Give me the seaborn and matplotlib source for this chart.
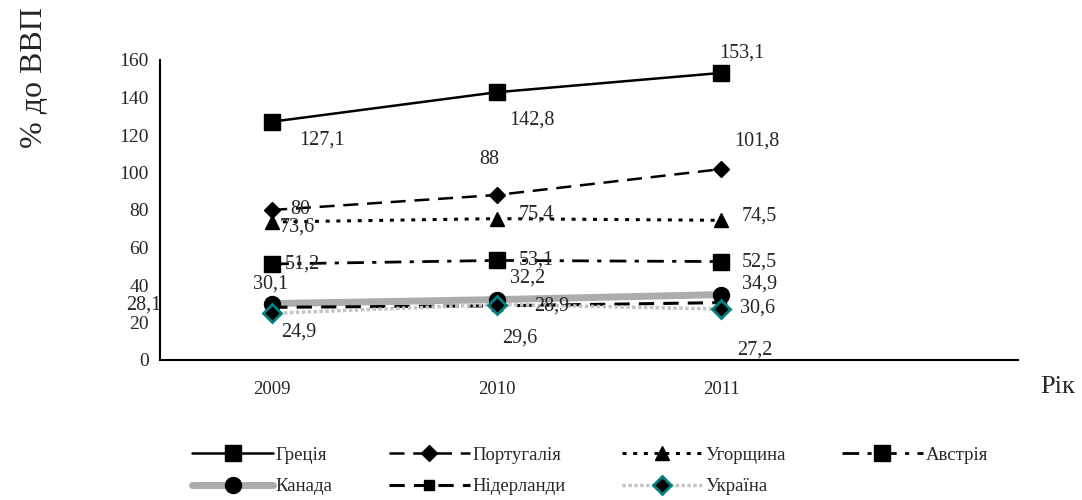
import numpy as np
import pandas as pd
import matplotlib
matplotlib.use("Agg")
from matplotlib import pyplot as plt
import seaborn as sns

years = ["2009", "2010", "2011"]

greece = [127.1, 142.8, 153.1]
portugal = [80, 88, 101.8]
hungary = [73.6, 75.4, 74.5]
austria = [51.2, 53.1, 52.5]
canada = [30.1, 32.2, 34.9]
netherlands = [28.1, 28.9, 30.6]
ukraine = [24.9, 29.6, 27.2]

names = ["Греція", "Португалія", "Угорщина", "Австрія", "Канада", "Нідерланди", "Україна"]
values = [greece, portugal, hungary, austria, canada, netherlands, ukraine]

sns.set_style("white")
plt.rcParams["font.family"] = ["Liberation Serif", "DejaVu Serif"]

# line / marker style per series
styles = {
    "Греція": dict(color="black", lw=1.8, ls="-", marker="s", ms=11.5, mfc="black", mec="black"),
    "Португалія": dict(color="black", lw=1.8, ls=(0, (6, 3.5)), marker="D", ms=8, mfc="black", mec="black"),
    "Угорщина": dict(color="black", lw=2.2, ls=(0, (1.3, 2.2)), marker="^", ms=10.5, mfc="black", mec="black"),
    "Австрія": dict(color="black", lw=2.0, ls=(0, (6, 3, 1.5, 3)), marker="s", ms=11, mfc="black", mec="black"),
    "Канада": dict(color="#acacac", lw=5, ls="-", marker="o", ms=11.5, mfc="black", mec="black"),
    "Нідерланди": dict(color="black", lw=2.2, ls=(0, (5, 3)), marker="s", ms=7, mfc="black", mec="black"),
    "Україна": dict(color="#c4c4c4", lw=2.5, ls=(0, (1, 0.7)), marker="D", ms=9.5, mfc="black", mec="#008080", mew=2),
}

# label offsets in pixels (dx, dy) from each point
offsets = {
    "Греція": [(50, -18), (35, -28), (21, 20)],
    "Португалія": [(28, 0), (-7, 35), (36, 28)],
    "Угорщина": [(25, -5), (40, 5), (38, 4)],
    "Австрія": [(30, 0), (40, 0), (38, 0)],
    "Канада": [(-2, 20), (31, 22), (38, 11)],
    "Нідерланди": [(-128, 2), (55, 0), (36, -5)],
    "Україна": [(27, -19), (23, -34), (34, -41)],
}

fig = plt.figure(figsize=(10.82, 5.0), dpi=100)
ax = fig.add_axes([160 / 1082, 140 / 500, (1018 - 160) / 1082, 300 / 500])

x = np.arange(len(years))
handles = {}
for name, vals in zip(names, values):
    df = pd.DataFrame({"x": x, "y": vals})
    st = styles[name]
    sns.lineplot(data=df, x="x", y="y", ax=ax, color=st["color"], linewidth=st["lw"],
                 linestyle=st["ls"], marker=st["marker"], markersize=st["ms"],
                 markerfacecolor=st["mfc"], markeredgecolor=st["mec"],
                 markeredgewidth=st.get("mew", 1), label=name, legend=False)
    line = ax.get_lines()[-1]
    handles[name] = line
    for i, v in enumerate(vals):
        lab = str(v).replace(".", ",")
        if lab.endswith(",0"):
            lab = lab[:-2]
        dx, dy = offsets[name][i]
        ax.annotate(lab, (x[i], v), xytext=(dx, dy), textcoords="offset pixels",
                    ha="center", va="center", fontsize=14.5, annotation_clip=False)

ax.set_xlim(-0.5, (1018 - 272) / 224.5)
ax.set_ylim(0, 160)
ax.set_yticks(np.arange(0, 161, 20))
ax.set_xticks(x)
ax.set_xticklabels(years)
ax.set_xticks([-0.5, 0.5, 1.5, 2.5], minor=True)
ax.tick_params(axis="x", which="major", length=0, pad=15, labelsize=13.5)
ax.tick_params(axis="x", which="minor", length=5, width=1.5, direction="out", color="black")
ax.tick_params(axis="y", length=5, width=1.5, direction="out", labelsize=14, color="black", pad=3)
ax.set_xlabel("")
ax.set_ylabel("")
for s in ["top", "right"]:
    ax.spines[s].set_visible(False)
for s in ["left", "bottom"]:
    ax.spines[s].set_color("black")
    ax.spines[s].set_linewidth(1.5)

fig.text(35 / 1082, 1 - 78 / 500, "% до ВВП", rotation=90, ha="center", va="center", fontsize=23)
fig.text(1058 / 1082, 1 - 387 / 500, "Рік", ha="center", va="center", fontsize=19)

order = ["Греція", "Канада", "Португалія", "Нідерланди", "Угорщина", "Україна", "Австрія"]
fig.legend([handles[n] for n in order], order, ncol=4, loc="center",
           bbox_to_anchor=(590 / 1082, 1 - 471 / 500), frameon=False, fontsize=13.5,
           handlelength=4.3, handletextpad=0.15, columnspacing=3.0, labelspacing=0.75)

fig.savefig("out.png", dpi=100)
